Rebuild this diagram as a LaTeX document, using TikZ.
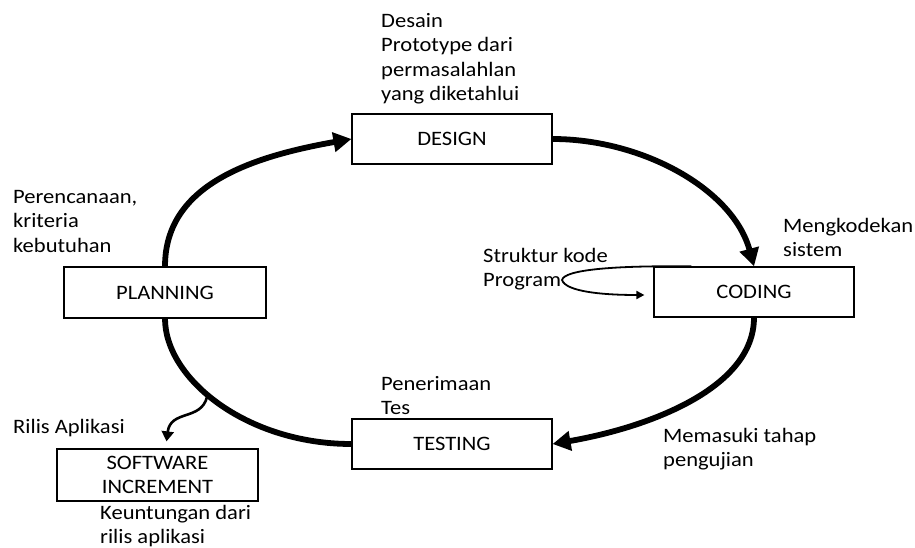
\documentclass[tikz,border=0pt]{standalone}
\usepackage{fontspec}
\setmainfont[FakeStretch=1.1]{Carlito}
\usetikzlibrary{arrows.meta,calc}
\newcommand\fsz{\fontsize{20.5}{24.5}\selectfont}
\begin{document}
\begin{tikzpicture}[x=1pt,y=-1pt,
  box/.style={draw, line width=1.2pt, minimum width=200pt, minimum height=50pt, inner sep=0pt, font=\fsz, align=center},
  tx/.style={anchor=north west, inner sep=0pt, align=left, font=\fsz},
  cyc/.style={line width=5.8pt, -{Triangle[length=18pt,width=19pt]}},
  cycn/.style={line width=5.8pt},
  brarrow/.style={line width=2.6pt, -{Triangle[length=10pt,width=12pt]}},
  looparrow/.style={line width=1.8pt, -{Triangle[length=8pt,width=8pt]}}]
\useasboundingbox (0,0) rectangle (915,548);
% boxes
\node[box] (design) at (452,139) {DESIGN};
\node[box, minimum width=202pt, minimum height=51pt] (planning) at (165,292.5) {PLANNING};
\node[box] (coding) at (754,292) {CODING};
\node[box] (testing) at (452,444) {TESTING};
\node[box, minimum width=201pt, minimum height=52pt] (sw) at (157.5,475) {SOFTWARE\\INCREMENT};
% text blocks
\node[tx] (tdesain) at (381,9.85) {\strut Desain\\Prototype dari\\permasalahlan\\yang diketahlui};
\node[tx] (tplan) at (13,185.85) {\strut Perencanaan,\\kriteria\\kebutuhan};
\node[tx] (tstruk) at (483,244.85) {\strut Struktur kode\\Program};
\node[tx] (tkode) at (783,214.85) {\strut Mengkodekan\\sistem};
\node[tx] (tterima) at (381,372.85) {\strut Penerimaan\\Tes};
\node[tx] (tmasuk) at (663,424.85) {\strut Memasuki tahap\\pengujian};
\node[tx] (trilis) at (13,415.85) {\strut Rilis Aplikasi};
\node[tx] (tuntung) at (100,501.85) {\strut Keuntungan dari\\rilis aplikasi};
% cycle
\draw[cyc] (planning.north) .. controls +(0,-78) and +(-108,19) .. (design.west);
\draw[cyc] (design.east) .. controls +(90,0) and +(-21,-77) .. (coding.north);
\draw[cyc] (coding.south) .. controls +(0,70) and +(98,-17) .. (testing.east);
\draw[cycn] (testing.west) .. controls +(-105,0) and +(0,60) .. (planning.south);
% branch to software increment
\coordinate (br) at (207,397);
\draw[brarrow] (br) .. controls +(-6,24) and +(4,-32) .. ($(sw.north)+(9,-7)$);
% loop arrow at coding
\coordinate (lp) at (562,280);
\draw[looparrow] ($(coding.north west)+(38,0)$) .. controls +(-80,-1) and +(2,-10) .. (lp)
  .. controls +(4,12) and +(-40,0) .. ($(coding.west)+(-9,3)$);
\end{tikzpicture}
\end{document}
